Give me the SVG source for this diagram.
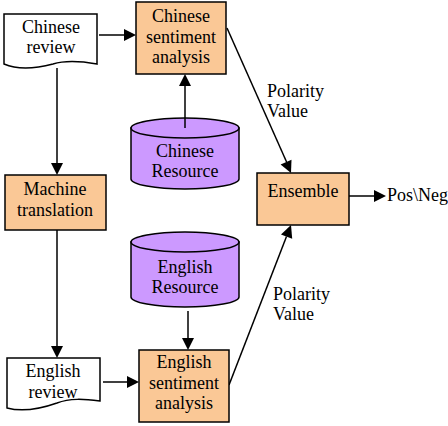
<svg xmlns="http://www.w3.org/2000/svg" width="448" height="426" viewBox="0 0 448 426">
<defs>
<style>
.box{fill:#FAC896;stroke:#000;stroke-width:1.5}
.doc{fill:#fff;stroke:#000;stroke-width:1.5}
.cyl{fill:#CC99FF;stroke:#000;stroke-width:1.5}
.ln{stroke:#000;stroke-width:1.5;fill:none}
</style>
</defs>
<rect width="448" height="426" fill="#fff"/>
<g id="connectors">
<line class="ln" x1="99" y1="35" x2="124" y2="35"/>
<path d="M136,35 l-12,-6 v12 z" fill="#000"/>
<line class="ln" x1="185" y1="128" x2="185" y2="86"/>
<path d="M185,74 l-6,12 h12 z" fill="#000"/>
<line class="ln" x1="57" y1="68" x2="57" y2="163"/>
<path d="M57,175 l-6,-12 h12 z" fill="#000"/>
<line class="ln" x1="57" y1="230" x2="57" y2="346"/>
<path d="M57,358 l-6,-12 h12 z" fill="#000"/>
<line class="ln" x1="103" y1="382" x2="127" y2="382"/>
<path d="M139,382 l-12,-6 v12 z" fill="#000"/>
<line class="ln" x1="188" y1="311" x2="188" y2="338"/>
<path d="M188,350 l-6,-12 h12 z" fill="#000"/>
<line class="ln" x1="227" y1="28" x2="286.6" y2="162"/>
<path d="M291,173 l-10.4,-8.4 l10.9,-4.8 z" fill="#000"/>
<line class="ln" x1="229" y1="385" x2="286.5" y2="236.5"/>
<path d="M291,225 l-10,9.5 l11.2,4.2 z" fill="#000"/>
<line class="ln" x1="349" y1="196" x2="374" y2="196"/>
<path d="M386,196 l-12,-6 v12 z" fill="#000"/>
<text x="267" y="97" font-family="Liberation Serif" font-size="18">Polarity</text>
<text x="267" y="117" font-family="Liberation Serif" font-size="18">Value</text>
<text x="273" y="300" font-family="Liberation Serif" font-size="18">Polarity</text>
<text x="273" y="320" font-family="Liberation Serif" font-size="18">Value</text>
</g>
<g id="chinese-review">
<path class="doc" d="M4,14 H97 V64 C80,61 66,60 53,64 C38,68 20,71 4,64 Z"/>
<text x="51" y="33" text-anchor="middle" font-family="Liberation Serif" font-size="18">Chinese</text>
<text x="51" y="53" text-anchor="middle" font-family="Liberation Serif" font-size="18">review</text>
</g>
<g id="chinese-sa">
<rect class="box" x="136" y="2" width="90" height="72"/>
<text x="181" y="22" text-anchor="middle" font-family="Liberation Serif" font-size="18">Chinese</text>
<text x="181" y="42.5" text-anchor="middle" font-family="Liberation Serif" font-size="18">sentiment</text>
<text x="181" y="63" text-anchor="middle" font-family="Liberation Serif" font-size="18">analysis</text>
</g>
<g id="chinese-resource">
<path class="cyl" d="M131,128 V179 A54,10 0 0 0 239,179 V128 Z"/>
<ellipse class="cyl" cx="185" cy="128" rx="54" ry="10"/>
<line class="ln" x1="185" y1="128" x2="185" y2="118"/>
<text x="185" y="157" text-anchor="middle" font-family="Liberation Serif" font-size="18">Chinese</text>
<text x="185" y="177" text-anchor="middle" font-family="Liberation Serif" font-size="18">Resource</text>
</g>
<g id="machine-translation">
<rect class="box" x="5" y="175" width="101" height="55"/>
<text x="55" y="195" text-anchor="middle" font-family="Liberation Serif" font-size="18">Machine</text>
<text x="55" y="216" text-anchor="middle" font-family="Liberation Serif" font-size="18">translation</text>
</g>
<g id="english-resource">
<path class="cyl" d="M131,242 V297 A54,10 0 0 0 239,297 V242 Z"/>
<ellipse class="cyl" cx="185" cy="242" rx="54" ry="10"/>
<text x="185" y="273" text-anchor="middle" font-family="Liberation Serif" font-size="18">English</text>
<text x="185" y="293" text-anchor="middle" font-family="Liberation Serif" font-size="18">Resource</text>
</g>
<g id="english-review">
<path class="doc" d="M7,358 H100 V401 C84,399 70,398 57,403 C40,409 22,412 7,408 Z"/>
<text x="53" y="377" text-anchor="middle" font-family="Liberation Serif" font-size="18">English</text>
<text x="53" y="398" text-anchor="middle" font-family="Liberation Serif" font-size="18">review</text>
</g>
<g id="english-sa">
<rect class="box" x="139" y="350" width="90" height="72"/>
<text x="184" y="368" text-anchor="middle" font-family="Liberation Serif" font-size="18">English</text>
<text x="184" y="389" text-anchor="middle" font-family="Liberation Serif" font-size="18">sentiment</text>
<text x="184" y="409" text-anchor="middle" font-family="Liberation Serif" font-size="18">analysis</text>
</g>
<g id="ensemble">
<rect class="box" x="257" y="173" width="92" height="52"/>
<text x="303" y="197" text-anchor="middle" font-family="Liberation Serif" font-size="18">Ensemble</text>
</g>
<g id="output">
<text x="387" y="201" font-family="Liberation Serif" font-size="18">Pos\Neg</text>
</g>
</svg>
